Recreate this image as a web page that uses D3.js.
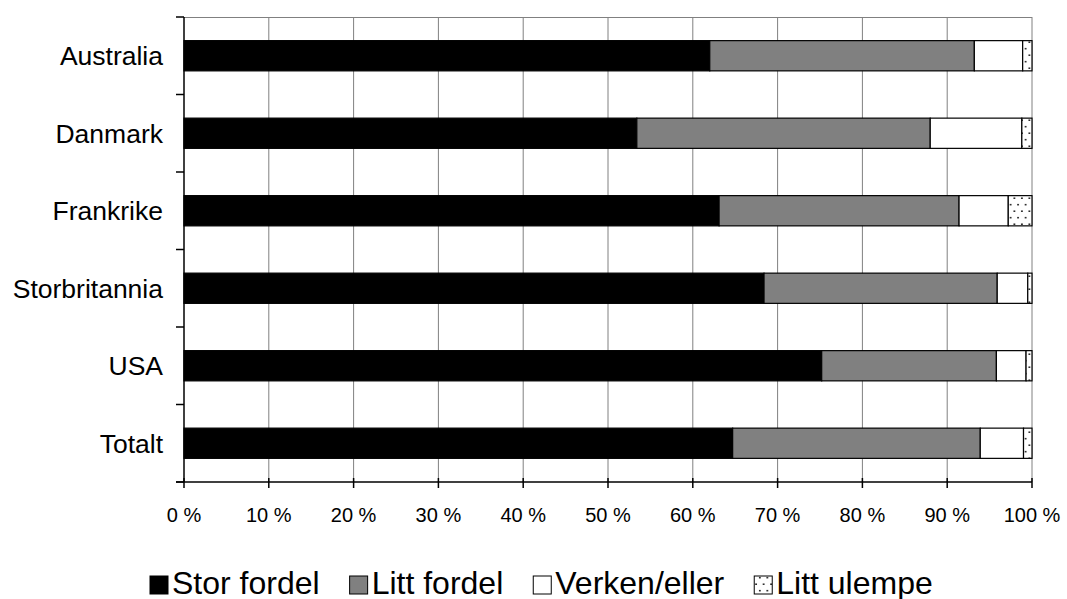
<!DOCTYPE html>
<meta charset="utf-8">
<html>
<style>
body { margin: 0; background: #fff; }
text { font-family: "Liberation Sans", Arial, sans-serif; fill: #000; }
.grid line { stroke: #808080; stroke-width: 1; }
.bars rect { stroke: #000; stroke-width: 1.2; }
</style>
<body>
<svg width="1067" height="599"></svg>
<script src="https://d3js.org/d3.v7.min.js"></script>
<script>
// values, in percent
var categories = ["Australia", "Danmark", "Frankrike", "Storbritannia", "USA", "Totalt"];
var seriesNames = ["Stor fordel", "Litt fordel", "Verken/eller", "Litt ulempe"];
var storFordel = [62.0, 53.4, 63.1, 68.4, 75.2, 64.7];
var littFordel = [31.2, 34.6, 28.3, 27.5, 20.6, 29.2];
var verkenEller = [5.7, 10.8, 5.8, 3.6, 3.5, 5.1];
var littUlempe = [1.1, 1.2, 2.8, 0.5, 0.7, 1.0];
var xTicks = [0, 10, 20, 30, 40, 50, 60, 70, 80, 90, 100];

var svg = d3.select("svg");
var plotLeft = 184, plotRight = 1032, plotTop = 17, plotBottom = 482;

// sparse staggered dots for "Litt ulempe"
var defs = svg.append("defs");
var pat = defs.append("pattern").attr("id", "dots")
    .attr("width", 7.5).attr("height", 13).attr("patternUnits", "userSpaceOnUse");
pat.append("rect").attr("width", 7.5).attr("height", 13).attr("fill", "#fff");
pat.append("circle").attr("cx", 1.9).attr("cy", 3.2).attr("r", 0.85).attr("fill", "#000");
pat.append("circle").attr("cx", 5.6).attr("cy", 9.7).attr("r", 0.85).attr("fill", "#000");

var fills = ["#000", "#808080", "#fff", "url(#dots)"];

var rows = categories.map(function(c, i) {
  return { cat: c, "Stor fordel": storFordel[i], "Litt fordel": littFordel[i],
           "Verken/eller": verkenEller[i], "Litt ulempe": littUlempe[i] };
});

var x = d3.scaleLinear().domain([0, 100]).range([plotLeft, plotRight]);
var y = d3.scaleBand().domain(categories).range([plotTop, plotBottom])
    .paddingInner(0.61).paddingOuter(0.305);

// gridlines + top border
var grid = svg.append("g").attr("class", "grid");
grid.selectAll("line.v").data(xTicks.slice(1)).enter().append("line")
    .attr("x1", function(d) { return x(d); }).attr("x2", function(d) { return x(d); })
    .attr("y1", plotTop).attr("y2", plotBottom);
grid.append("line").attr("x1", plotLeft).attr("x2", plotRight)
    .attr("y1", plotTop + 0.5).attr("y2", plotTop + 0.5);

// stacked bars
var stack = d3.stack().keys(seriesNames)(rows);
svg.append("g").attr("class", "bars")
  .selectAll("g").data(stack).enter().append("g")
    .attr("fill", function(d, i) { return fills[i]; })
  .selectAll("rect").data(function(d) { return d; }).enter().append("rect")
    .attr("x", function(d) { return x(d[0]); })
    .attr("y", function(d) { return y(d.data.cat); })
    .attr("width", function(d) { return x(d[1]) - x(d[0]); })
    .attr("height", y.bandwidth());

// y axis, ticks sit between categories
var yAxis = svg.append("g");
yAxis.append("line").attr("x1", plotLeft).attr("x2", plotLeft)
    .attr("y1", plotTop).attr("y2", plotBottom)
    .attr("stroke", "#000").attr("stroke-width", 1.5);
var step = y.step();
yAxis.selectAll("line.t").data(d3.range(categories.length + 1)).enter().append("line")
    .attr("x1", plotLeft - 8).attr("x2", plotLeft)
    .attr("y1", function(i) { return plotTop + i * step; })
    .attr("y2", function(i) { return plotTop + i * step; })
    .attr("stroke", "#000").attr("stroke-width", 1.5);
yAxis.selectAll("text").data(categories).enter().append("text")
    .attr("x", plotLeft - 21)
    .attr("y", function(d) { return y(d) + y.bandwidth() / 2; })
    .attr("dy", "0.36em")
    .attr("text-anchor", "end")
    .style("font-size", "26.5px")
    .text(function(d) { return d; });

// x axis
var xAxis = svg.append("g");
xAxis.append("line").attr("x1", plotLeft - 8).attr("x2", plotRight)
    .attr("y1", plotBottom).attr("y2", plotBottom)
    .attr("stroke", "#000").attr("stroke-width", 1.5);
xAxis.selectAll("line.t").data(xTicks).enter().append("line")
    .attr("x1", function(d) { return x(d); }).attr("x2", function(d) { return x(d); })
    .attr("y1", plotBottom - 4).attr("y2", plotBottom + 6)
    .attr("stroke", "#000").attr("stroke-width", 1.5);
xAxis.selectAll("text").data(xTicks).enter().append("text")
    .attr("x", function(d) { return x(d); })
    .attr("y", 522)
    .attr("text-anchor", "middle")
    .style("font-size", "20px")
    .text(function(d) { return d + " %"; });

// legend
var legend = svg.append("g");
var lx = 0;
seriesNames.forEach(function(name, i) {
  var g = legend.append("g");
  g.append("rect").attr("x", 0).attr("y", -18).attr("width", 18).attr("height", 18)
      .attr("fill", fills[i]).attr("stroke", "#000").attr("stroke-width", 1);
  var t = g.append("text").attr("x", 22).attr("y", 0).style("font-size", "32px").text(name);
  var w = 22 + t.node().getComputedTextLength();
  g.attr("transform", "translate(" + lx + ",0)");
  lx += w + 30;
});
legend.attr("transform", "translate(150,594)");
</script>
</body>
</html>
